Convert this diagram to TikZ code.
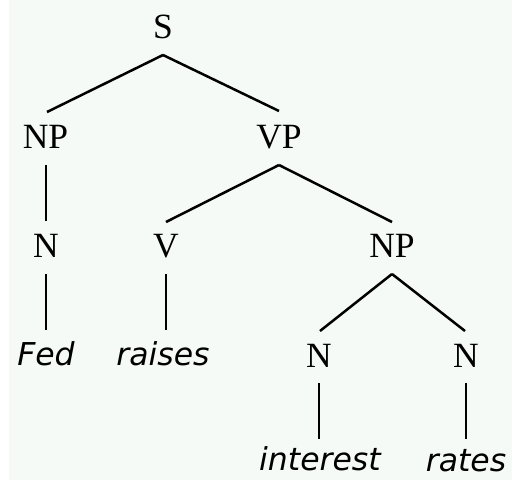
\documentclass[tikz,border=0pt]{standalone}
\usepackage{fontspec}
\setmainfont{Liberation Serif}
\newfontfamily\wordfont{DejaVu Sans}
\usetikzlibrary{calc}
\definecolor{bgc}{RGB}{245,250,247}
\begin{document}
\begin{tikzpicture}[x=1pt,y=-1pt,
  cat/.style={anchor=base,inner sep=0pt,font=\fontsize{35.5}{40}\selectfont},
  word/.style={anchor=base,inner sep=0pt,font=\wordfont\itshape\fontsize{31.5}{36}\selectfont},
  edge/.style={line width=2.5pt}]
\fill[white] (0,0) rectangle (512,480);
\fill[bgc] (9,0) rectangle (512,480);
\useasboundingbox (0,0) rectangle (512,480);
% categories
\node[cat] (S)   at (163,38)  {S};
\node[cat] (NPa) at (45.5,148) {NP};
\node[cat] (VP)  at (279,148) {VP};
\node[cat] (Na)  at (46,257)  {N};
\node[cat] (V)   at (166,257) {V};
\node[cat] (NPb) at (392,257) {NP};
\node[cat] (Nb)  at (319,367) {N};
\node[cat] (Nc)  at (466,367) {N};
% words
\node[word] (Fed)      at (46,365)  {Fed};
\node[word] (raises)   at (163,365) {raises};
\node[word] (interest) at (320,470) {interest};
\node[word] (rates)    at (466,471) {rates};
% edges
\draw[edge] ($(S.base)+(0,17)$) -- ($(NPa.base)+(1.5,-36)$);
\draw[edge] ($(S.base)+(0,17)$) -- ($(VP.base)+(0,-37)$);
\draw[edge] ($(NPa.base)+(0.5,17)$) -- ($(Na.base)+(0,-36)$);
\draw[edge] ($(VP.base)+(0,17)$) -- ($(V.base)+(0,-35)$);
\draw[edge] ($(VP.base)+(0,17)$) -- ($(NPb.base)+(0,-35)$);
\draw[edge] ($(Na.base)+(0,17)$) -- ($(Na.base |- Fed.base)+(0,-35)$);
\draw[edge] ($(V.base)+(0,17)$) -- ($(V.base |- raises.base)+(0,-35)$);
\draw[edge] ($(NPb.base)+(0,17)$) -- ($(Nb.base)+(1,-36)$);
\draw[edge] ($(NPb.base)+(0,17)$) -- ($(Nc.base)+(-1,-36)$);
\draw[edge] ($(Nb.base)+(0,16)$) -- ($(Nb.base |- interest.base)+(0,-31)$);
\draw[edge] ($(Nc.base)+(0,16)$) -- ($(Nc.base |- rates.base)+(0,-32)$);
\end{tikzpicture}
\end{document}
